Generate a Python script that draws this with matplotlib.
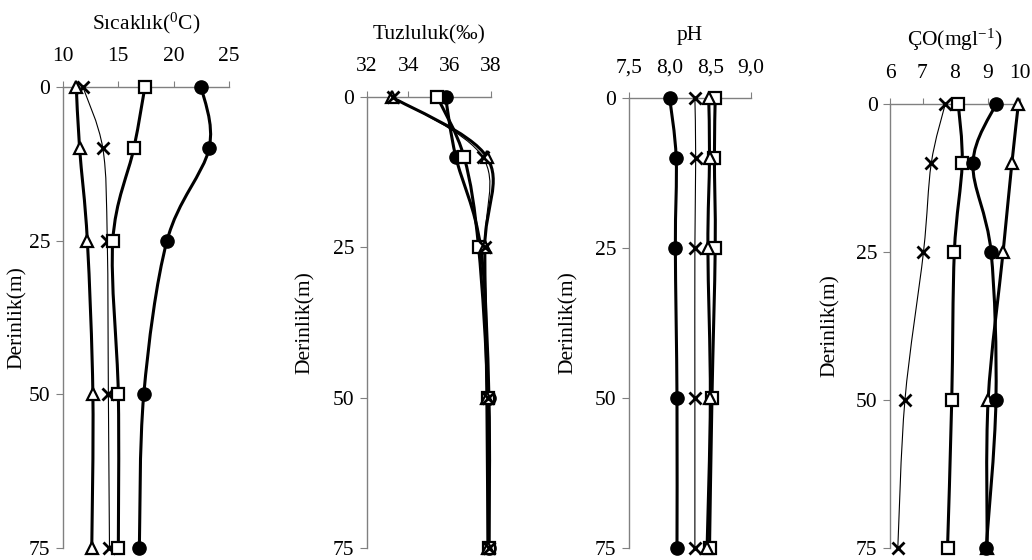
import numpy as np
import matplotlib
matplotlib.use("Agg")
import matplotlib.pyplot as plt
from matplotlib.path import Path
from matplotlib.patches import PathPatch

plt.rcParams['font.family'] = 'Liberation Serif'
plt.rcParams['mathtext.fontset'] = 'custom'
plt.rcParams['mathtext.rm'] = 'Liberation Serif'
plt.rcParams['mathtext.it'] = 'Liberation Serif:italic'
plt.rcParams['font.size'] = 15.5

W, H = 1032, 560

# depth of sampling (m)
derinlik = [0, 10, 25, 50, 75]

# temperature (C)
sicaklik_daire = [22.5, 23.2, 19.4, 17.3, 16.9]
sicaklik_kare = [17.4, 16.4, 14.5, 15.0, 15.0]
sicaklik_ucgen = [11.2, 11.5, 12.2, 12.7, 12.6]
sicaklik_carpi = [11.8, 13.6, 14.0, 14.1, 14.2]

# salinity (permil)
tuz_daire = [35.8, 36.3, 37.5, 37.9, 37.9]
tuz_kare = [35.4, 36.7, 37.4, 37.85, 37.9]
tuz_ucgen = [33.2, 37.8, 37.7, 37.8, 37.85]
tuz_carpi = [33.25, 37.6, 37.7, 37.85, 37.9]

# pH
ph_daire = [8.0, 8.08, 8.07, 8.09, 8.09]
ph_kare = [8.56, 8.55, 8.56, 8.52, 8.49]
ph_ucgen = [8.48, 8.49, 8.47, 8.50, 8.46]
ph_carpi = [8.31, 8.32, 8.31, 8.31, 8.31]

# dissolved oxygen (mg/l)
co_daire = [9.26, 8.55, 9.11, 9.26, 8.96]
co_kare = [8.1, 8.22, 7.98, 7.90, 7.77]
co_ucgen = [9.95, 9.75, 9.48, 9.02, 8.99]
co_carpi = [7.7, 7.27, 7.03, 6.46, 6.24]


def smooth_path(xs, ys):
    # excel style smoothed line: bezier segments through the points
    pts = np.column_stack([xs, ys]).astype(float)
    ext = np.vstack([pts[0], pts, pts[-1]])
    verts = [pts[0]]
    codes = [Path.MOVETO]
    for i in range(len(pts) - 1):
        p0, p1, p2, p3 = ext[i], ext[i + 1], ext[i + 2], ext[i + 3]
        verts += [p1 + (p2 - p0) / 6, p2 - (p3 - p1) / 6, p2]
        codes += [Path.CURVE4] * 3
    return Path(verts, codes)


# marker style per series kind
marker_style = {
    'x': dict(lw=0.8, face='none', ms=9, mew=2.0),
    's': dict(lw=2.2, face='white', ms=8.5, mew=1.6),
    '^': dict(lw=2.2, face='white', ms=9, mew=1.6),
    'o': dict(lw=2.2, face='black', ms=9.5, mew=1.0),
}


def draw_series(ax, vals, marker):
    st = marker_style[marker]
    ax.add_patch(PathPatch(smooth_path(vals, derinlik), facecolor='none',
                           edgecolor='black', lw=st['lw'], clip_on=False, zorder=2))
    ax.plot(vals, derinlik, ls='none', marker=marker, ms=st['ms'], mfc=st['face'],
            mec='black', mew=st['mew'], clip_on=False, zorder=3)


panels = [
    # (left, right, top px), xlim, ticks, labels, title, ylabel x px, series (drawing order)
    ((63, 229, 87), (10, 25), [10, 15, 20, 25], ['10', '15', '20', '25'],
     r'Sıcaklık($^{0}$C)', 27,
     [(sicaklik_carpi, 'x'), (sicaklik_ucgen, '^'), (sicaklik_kare, 's'), (sicaklik_daire, 'o')]),
    ((367, 491, 97), (32, 38), [32, 34, 36, 38], ['32', '34', '36', '38'],
     'Tuzluluk(‰)', 315,
     [(tuz_daire, 'o'), (tuz_kare, 's'), (tuz_ucgen, '^'), (tuz_carpi, 'x')]),
    ((629, 751, 98), (7.5, 9.0), [7.5, 8.0, 8.5, 9.0], ['7,5', '8,0', '8,5', '9,0'],
     'pH', 578,
     [(ph_carpi, 'x'), (ph_kare, 's'), (ph_ucgen, '^'), (ph_daire, 'o')]),
    ((890, 1020, 104), (6, 10), [6, 7, 8, 9, 10], ['6', '7', '8', '9', '10'],
     r'ÇO(mgl$^{-1}$)', 840,
     [(co_carpi, 'x'), (co_kare, 's'), (co_ucgen, '^'), (co_daire, 'o')]),
]

fig = plt.figure(figsize=(W / 100, H / 100), dpi=100)
bottom = 548
for (l, r, t), xlim, ticks, tlabels, title, ylx, series in panels:
    ax = fig.add_axes([l / W, 1 - bottom / H, (r - l) / W, (bottom - t) / H])
    ax.set_xlim(*xlim)
    ax.set_ylim(75, 0)
    ax.set_yticks([0, 25, 50, 75])
    ax.xaxis.set_ticks_position('top')
    ax.xaxis.set_label_position('top')
    ax.set_xticks(ticks)
    ax.set_xticklabels(tlabels)
    for s in ['right', 'bottom']:
        ax.spines[s].set_visible(False)
    for s in ['left', 'top']:
        ax.spines[s].set_color('#808080')
        ax.spines[s].set_linewidth(1.0)
    ax.tick_params(axis='x', direction='out', length=4, color='#808080', pad=11)
    ax.tick_params(axis='y', direction='out', length=5, color='#808080', pad=4)
    ax.set_xlabel(title, labelpad=13)
    ax.set_ylabel('Derinlik(m)')
    ax.yaxis.set_label_coords((ylx - l) / (r - l), 0.5)
    ax.patch.set_alpha(0)

    for vals, marker in series:
        draw_series(ax, vals, marker)

fig.savefig('out.png', dpi=100)
